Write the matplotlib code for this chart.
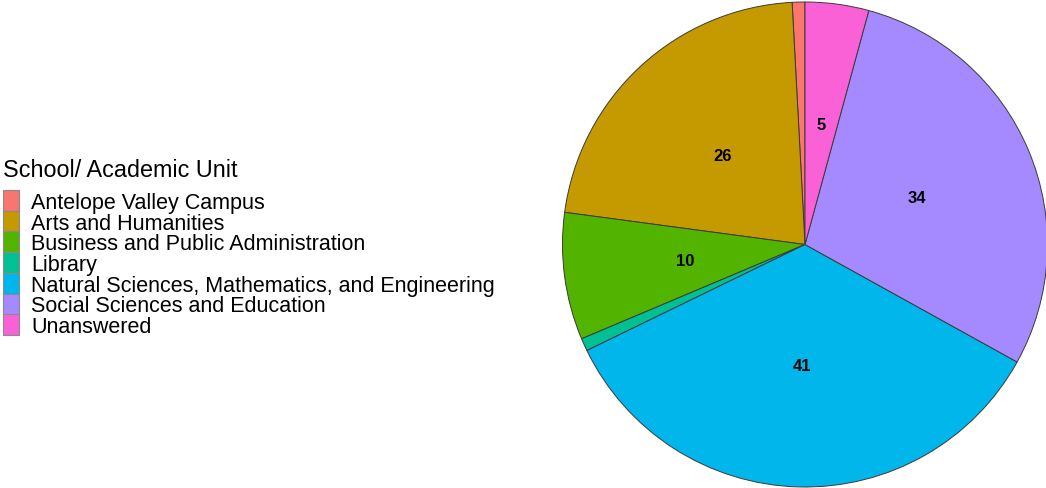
import matplotlib.pyplot as plt
from matplotlib.patches import Rectangle

plt.rcParams['font.family'] = ['Liberation Sans', 'DejaVu Sans']

units = ["Antelope Valley Campus", "Arts and Humanities",
         "Business and Public Administration", "Library",
         "Natural Sciences, Mathematics, and Engineering",
         "Social Sciences and Education", "Unanswered"]
counts = [1, 26, 10, 1, 41, 34, 5]
colors = ["#F8766D", "#C49A00", "#53B400", "#00C094",
          "#00B6EB", "#A58AFF", "#FB61D7"]

W, H = 1046, 489
fig = plt.figure(figsize=(W / 100, H / 100), dpi=100)

# pie panel (pixel box converted to figure fractions)
cx, cy, r = 805, 245.5, 242.5
ax = fig.add_axes([(cx - r) / W, 1 - (cy + r) / H, 2 * r / W, 2 * r / H])
wedges, texts = ax.pie(counts, colors=colors, startangle=90, counterclock=True,
                       wedgeprops=dict(edgecolor="#3a3a3a", linewidth=0.7),
                       labels=[str(c) if c > 1 else "" for c in counts],
                       labeldistance=0.5,
                       textprops=dict(fontsize=12, fontweight="bold", color="black",
                                      ha="center", va="center"))
ax.set_xlim(-1.0, 1.0)
ax.set_ylim(-1.0, 1.0)
ax.axis("off")

# legend drawn by hand
fig.text(3 / W, 1 - 171 / H, "School/ Academic Unit", fontsize=16.8,
         ha="left", va="center")
row_h = 20.7
top = 191
for i, (lab, col) in enumerate(zip(units, colors)):
    y0 = top + i * row_h
    fig.patches.append(Rectangle((3 / W, 1 - (y0 + row_h) / H), 16 / W, row_h / H,
                                 transform=fig.transFigure, facecolor=col,
                                 edgecolor="#8a8a8a", linewidth=0.8))
    fig.text(31 / W, 1 - (y0 + row_h / 2 + 2) / H, lab, fontsize=15.5,
             ha="left", va="center")

fig.savefig("out.png", dpi=100)
